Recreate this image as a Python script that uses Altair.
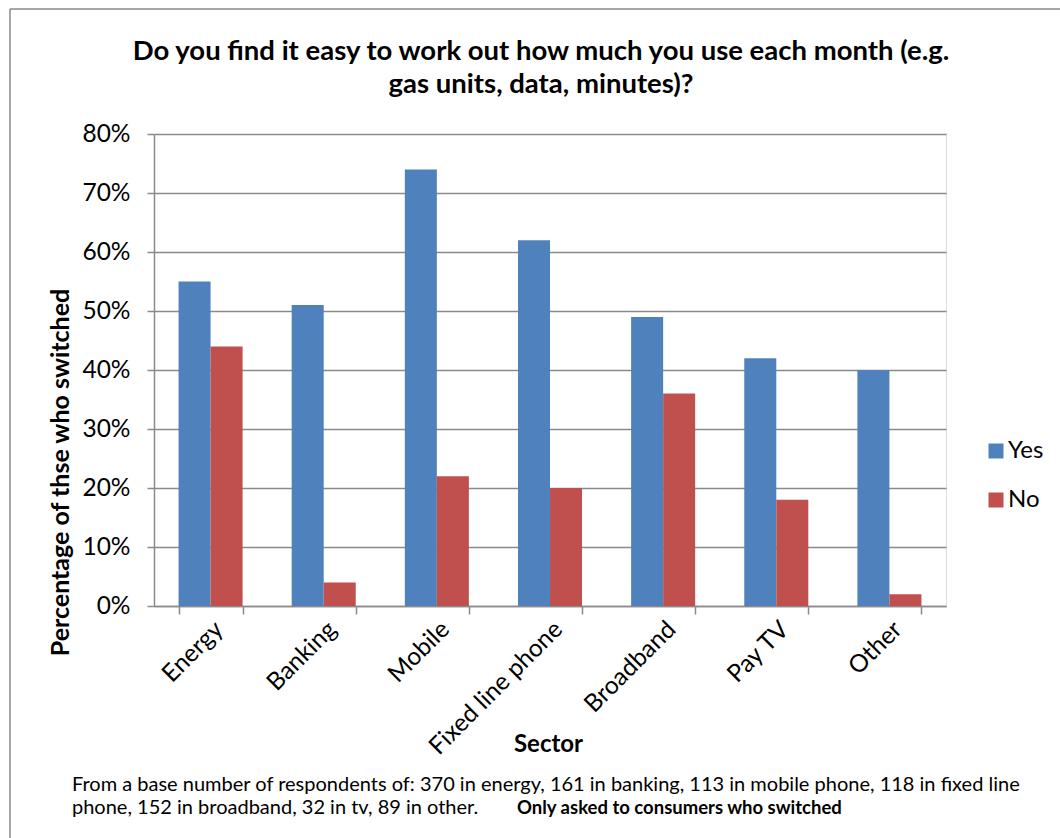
import altair as alt
import pandas as pd

sectors = ["Energy", "Banking", "Mobile", "Fixed line phone", "Broadband", "Pay TV", "Other"]
answers = ["Yes", "No"]
yes_values = [0.55, 0.51, 0.74, 0.62, 0.49, 0.42, 0.40]
no_values = [0.44, 0.04, 0.22, 0.20, 0.36, 0.18, 0.02]
colors = ["#4F81BD", "#C0504D"]
y_ticks = [0, 0.1, 0.2, 0.3, 0.4, 0.5, 0.6, 0.7, 0.8]

title_line1 = "Do you find it easy to work out how much you use each month (e.g."
title_line2 = "gas units, data, minutes)?"
foot_line1 = "From a base number of respondents of: 370 in energy, 161 in banking, 113 in mobile phone, 118 in fixed line"
foot_line2 = "phone,  152 in broadband, 32  in tv, 89 in other."
foot_bold = "Only asked to consumers who switched"

FONT = "Lato"
GRAY = "#8a8a8a"
W, H = 792, 472

rows = []
for s, y, n in zip(sectors, yes_values, no_values):
    rows.append({"Sector": s, "Answer": "Yes", "Value": y})
    rows.append({"Sector": s, "Answer": "No", "Value": n})
df = pd.DataFrame(rows)

bars = alt.Chart(df).mark_bar(stroke=None).encode(
    x=alt.X("Sector:N", sort=sectors,
            scale=alt.Scale(paddingInner=0.434, paddingOuter=0.217),
            axis=alt.Axis(title="Sector", labelAngle=-45, labelFontSize=24.5,
                          labelFont=FONT, labelColor="#000000", labelPadding=3,
                          labelLimit=400,
                          tickBand="extent", tickSize=8, tickColor=GRAY, tickWidth=1.5,
                          domainColor=GRAY, domainWidth=1.5, grid=False,
                          titleFont=FONT, titleFontSize=24, titleFontWeight="bold",
                          titleColor="#000000", titleX=394, titleY=138,
                          titleAlign="center", titleBaseline="middle")),
    xOffset=alt.XOffset("Answer:N", sort=answers, scale=alt.Scale(paddingInner=0, paddingOuter=0)),
    y=alt.Y("Value:Q", scale=alt.Scale(domain=[0, 0.8], nice=False),
            axis=alt.Axis(title="Percentage of thse who switched", values=y_ticks,
                          format=".0%", labelFontSize=24.5, labelFont=FONT,
                          labelColor="#000000", labelPadding=17,
                          tickSize=7, tickColor=GRAY, tickWidth=1.5,
                          domainColor=GRAY, domainWidth=1.5,
                          grid=True, gridColor=GRAY, gridWidth=1.5,
                          titleFont=FONT, titleFontSize=25, titleFontWeight="bold",
                          titleColor="#000000", titleX=-94, titleY=338,
                          titleAlign="center", titleBaseline="middle", titleAngle=-90)),
    color=alt.Color("Answer:N", sort=answers,
                    scale=alt.Scale(domain=answers, range=colors),
                    legend=alt.Legend(title=None, orient="none", legendX=830, legendY=305,
                                      symbolType="square", symbolSize=225,
                                      symbolStrokeWidth=0, labelFontSize=24,
                                      labelFont=FONT, labelColor="#000000",
                                      rowPadding=25, labelOffset=0)),
)

one = pd.DataFrame({"k": [0]})

border_top = alt.Chart(one).mark_rule(color=GRAY, strokeWidth=1.5).encode(
    x=alt.value(-144), x2=alt.value(W + 120), y=alt.value(-125))
border_left = alt.Chart(one).mark_rule(color=GRAY, strokeWidth=1.5).encode(
    x=alt.value(-144), y=alt.value(-125), y2=alt.value(H + 240))

def text_layer(txt, x, y, size, weight="normal", align="left"):
    return alt.Chart(one).mark_text(align=align, baseline="middle", font=FONT,
                                    fontSize=size, fontWeight=weight,
                                    color="#000000").encode(
        x=alt.value(x), y=alt.value(y), text=alt.value(txt))

title1 = text_layer(title_line1, 387, -82, 27.5, "bold", "center")
title2 = text_layer(title_line2, 387, -49, 27.5, "bold", "center")
foot1 = text_layer(foot_line1, -82, 651, 20)
foot2 = text_layer(foot_line2, -82, 674, 20)
foot3 = text_layer(foot_bold, 363, 674, 18.5, "bold")

chart = alt.layer(bars, border_top, border_left, title1, title2, foot1, foot2, foot3).properties(
    width=W, height=H,
    autosize=alt.AutoSizeParams(type="none"),
    padding={"left": 154, "top": 134, "right": 1060 - 154 - W, "bottom": 838 - 134 - H},
).configure_view(stroke=None).configure(background="#ffffff")

chart.save("out.html", embed_options={"renderer": "svg", "actions": False})
